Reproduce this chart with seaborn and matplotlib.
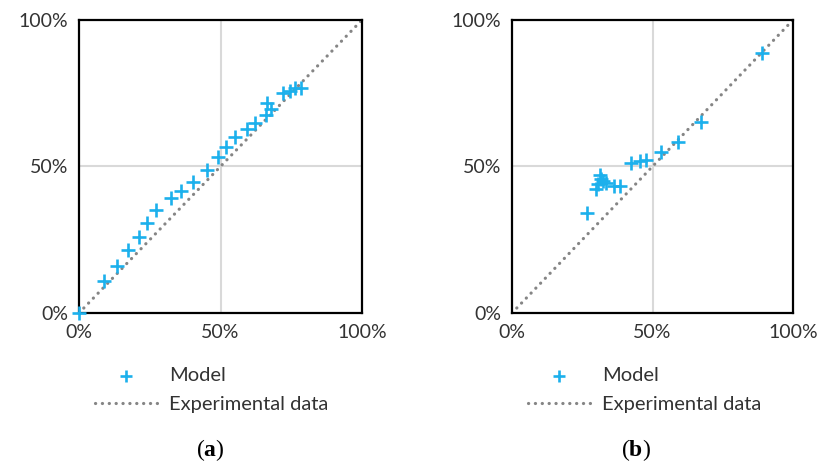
import matplotlib
matplotlib.use("Agg")
import matplotlib.pyplot as plt
import seaborn as sns
import pandas as pd
from matplotlib.ticker import PercentFormatter

# ---- data ----
exp_a = [0.000, 0.089, 0.133, 0.173, 0.212, 0.242, 0.271, 0.324, 0.361, 0.402,
         0.451, 0.491, 0.519, 0.552, 0.594, 0.622, 0.662, 0.678, 0.663, 0.720,
         0.746, 0.763, 0.784]
model_a = [0.000, 0.110, 0.162, 0.214, 0.259, 0.307, 0.350, 0.393, 0.417, 0.448,
           0.489, 0.531, 0.565, 0.599, 0.627, 0.648, 0.674, 0.697, 0.716, 0.752,
           0.759, 0.767, 0.767]

exp_b = [0.267, 0.298, 0.306, 0.314, 0.318, 0.322, 0.336, 0.362, 0.386, 0.423,
         0.454, 0.475, 0.530, 0.589, 0.673, 0.889]
model_b = [0.342, 0.422, 0.440, 0.472, 0.458, 0.450, 0.445, 0.434, 0.434, 0.511,
           0.517, 0.522, 0.550, 0.582, 0.651, 0.887]

diag = [0.0, 1.0]
ticks = [0.0, 0.5, 1.0]
panel_labels = ["a", "b"]

sns.set_theme(style="white")
plt.rcParams["font.family"] = ["Lato", "DejaVu Sans"]
plt.rcParams["mathtext.fontset"] = "custom"
plt.rcParams["mathtext.rm"] = "Liberation Serif"
plt.rcParams["mathtext.bf"] = "Liberation Serif:bold"

BLUE = "#1cb0ec"
GRAY = "#858585"
TXT = "#333333"

fig = plt.figure(figsize=(8.17, 4.63), dpi=100)
ax_a = fig.add_axes([0.0967, 0.324, 0.3464, 0.633])
ax_b = fig.add_axes([0.6267, 0.324, 0.344, 0.633])

panels = [(ax_a, exp_a, model_a, 210), (ax_b, exp_b, model_b, 636)]

for (ax, ex, mo, lx), lab in zip(panels, panel_labels):
    df = pd.DataFrame({"exp": ex, "model": mo})
    dd = pd.DataFrame({"x": diag, "y": diag})
    ax.axvline(0.5, color="#d9d9d9", lw=1.5, zorder=0)
    ax.axhline(0.5, color="#d9d9d9", lw=1.5, zorder=0)
    sns.lineplot(data=dd, x="x", y="y", ax=ax, color=GRAY, lw=2.3,
                 linestyle=(0, (0.05, 2.1)), dash_capstyle="round",
                 label="Experimental data", zorder=2)
    sns.scatterplot(data=df, x="exp", y="model", ax=ax, marker="+", s=115,
                    color=BLUE, linewidth=1.9, label="Model", zorder=3,
                    clip_on=False)
    ax.set_xlim(0, 1)
    ax.set_ylim(0, 1)
    ax.set_xticks(ticks)
    ax.set_yticks(ticks)
    ax.xaxis.set_major_formatter(PercentFormatter(1.0, decimals=0))
    ax.yaxis.set_major_formatter(PercentFormatter(1.0, decimals=0))
    ax.tick_params(direction="in", length=5, width=1.5, color="black",
                   labelsize=14, labelcolor=TXT, pad=8)
    ax.set_xlabel("")
    ax.set_ylabel("")
    for sp in ax.spines.values():
        sp.set_color("black")
        sp.set_linewidth(1.6)
    h, l = ax.get_legend_handles_labels()
    order = [l.index("Model"), l.index("Experimental data")]
    ax.legend([h[i] for i in order], [l[i] for i in order],
              loc="upper left", bbox_to_anchor=(0.02, -0.15), frameon=False,
              fontsize=14.5, handlelength=3.1, handletextpad=0.6,
              borderpad=0.0, labelspacing=0.6, markerscale=0.8,
              labelcolor=TXT)
    fig.text(lx / 817, 1 - 450 / 463, r"($\mathbf{%s}$)" % lab,
             ha="center", va="center", fontsize=17, family="Liberation Serif",
             color="black")

fig.savefig("out.png", dpi=100)
